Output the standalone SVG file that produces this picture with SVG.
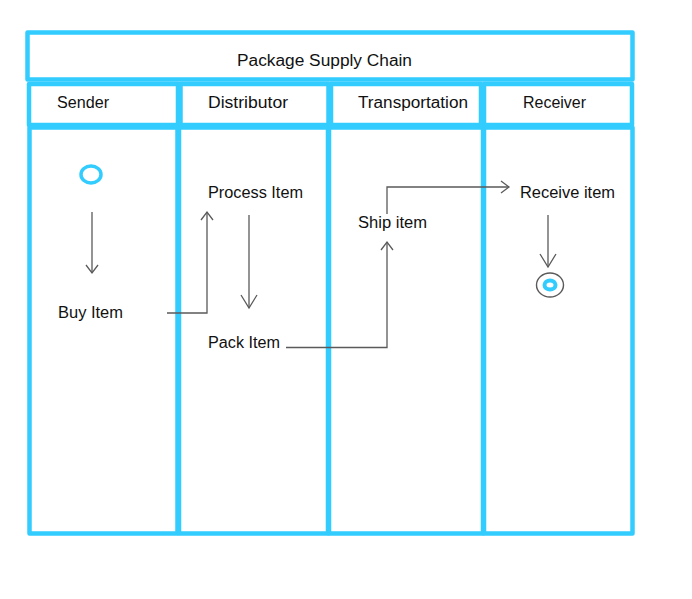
<svg xmlns="http://www.w3.org/2000/svg" width="692" height="599" viewBox="0 0 692 599">
<style>
.box{fill:#fff;stroke:#33CCFF;stroke-width:4.5;stroke-linejoin:round}
.t{font-family:"Liberation Sans",Arial,sans-serif;font-size:16px;fill:#111}
.c{fill:none;stroke:#5a5a5a;stroke-width:1.3}
</style>
<defs>
<marker id="a" markerUnits="userSpaceOnUse" markerWidth="20" markerHeight="20" refX="10" refY="10" orient="auto" viewBox="0 0 20 20">
<path d="M2,4 L10,10 L2,16" fill="none" stroke="#5a5a5a" stroke-width="1.3"/>
</marker>
<marker id="b" markerUnits="userSpaceOnUse" markerWidth="30" markerHeight="30" refX="15" refY="15" orient="auto" viewBox="0 0 30 30">
<path d="M2,7 L15,15 L2,23" fill="none" stroke="#5a5a5a" stroke-width="1.3"/>
</marker>
</defs>
<rect width="692" height="599" fill="#fff"/>
<g id="pool">
<rect class="box" x="27.5" y="32.5" width="605" height="47"/>
<text class="t" x="237" y="66" textLength="175" lengthAdjust="spacingAndGlyphs">Package Supply Chain</text>
</g>
<g id="lane-sender">
<rect class="box" x="29" y="84" width="149" height="41"/>
<rect class="box" x="29.5" y="127.5" width="148" height="406"/>
<text class="t" x="57" y="108" textLength="52" lengthAdjust="spacingAndGlyphs">Sender</text>
</g>
<g id="lane-distributor">
<rect class="box" x="180.5" y="84" width="148" height="41"/>
<rect class="box" x="179" y="127.5" width="149" height="406"/>
<text class="t" x="208" y="108" textLength="80" lengthAdjust="spacingAndGlyphs">Distributor</text>
</g>
<g id="lane-transportation">
<rect class="box" x="331" y="84" width="150" height="41"/>
<rect class="box" x="329" y="127.5" width="154" height="406"/>
<text class="t" x="358" y="108" textLength="110" lengthAdjust="spacingAndGlyphs">Transportation</text>
</g>
<g id="lane-receiver">
<rect class="box" x="484" y="84" width="148" height="41"/>
<rect class="box" x="484" y="127.5" width="148.5" height="406"/>
<text class="t" x="523" y="108" textLength="63" lengthAdjust="spacingAndGlyphs">Receiver</text>
</g>
<g id="start">
<ellipse cx="91" cy="174.5" rx="10" ry="8.5" fill="#fff" stroke="#33CCFF" stroke-width="3.5"/>
</g>
<g id="buy-item"><text class="t" x="58" y="318" textLength="65" lengthAdjust="spacingAndGlyphs">Buy Item</text></g>
<g id="process-item"><text class="t" x="208" y="198" textLength="95" lengthAdjust="spacingAndGlyphs">Process Item</text></g>
<g id="pack-item"><text class="t" x="208" y="348" textLength="72" lengthAdjust="spacingAndGlyphs">Pack Item</text></g>
<g id="ship-item"><text class="t" x="358" y="228" textLength="69" lengthAdjust="spacingAndGlyphs">Ship item</text></g>
<g id="receive-item"><text class="t" x="520" y="198" textLength="95" lengthAdjust="spacingAndGlyphs">Receive item</text></g>
<g id="end">
<ellipse cx="550" cy="285" rx="13.5" ry="12" fill="#fff" stroke="#5a5a5a" stroke-width="1.4"/>
<ellipse cx="550" cy="285" rx="5.5" ry="4.5" fill="#fff" stroke="#33CCFF" stroke-width="4"/>
</g>
<g id="connectors">
<path class="c" d="M92,212 L92,273" marker-end="url(#a)"/>
<path class="c" d="M167,313 L207,313 L207,212" marker-end="url(#a)"/>
<path class="c" d="M249,215 L249,308" marker-end="url(#b)"/>
<path class="c" d="M286,347.5 L387,347.5 L387,242" marker-end="url(#a)"/>
<path class="c" d="M387,214 L387,187 L509,187" marker-end="url(#a)"/>
<path class="c" d="M548,215 L548,267" marker-end="url(#b)"/>
</g>
</svg>
